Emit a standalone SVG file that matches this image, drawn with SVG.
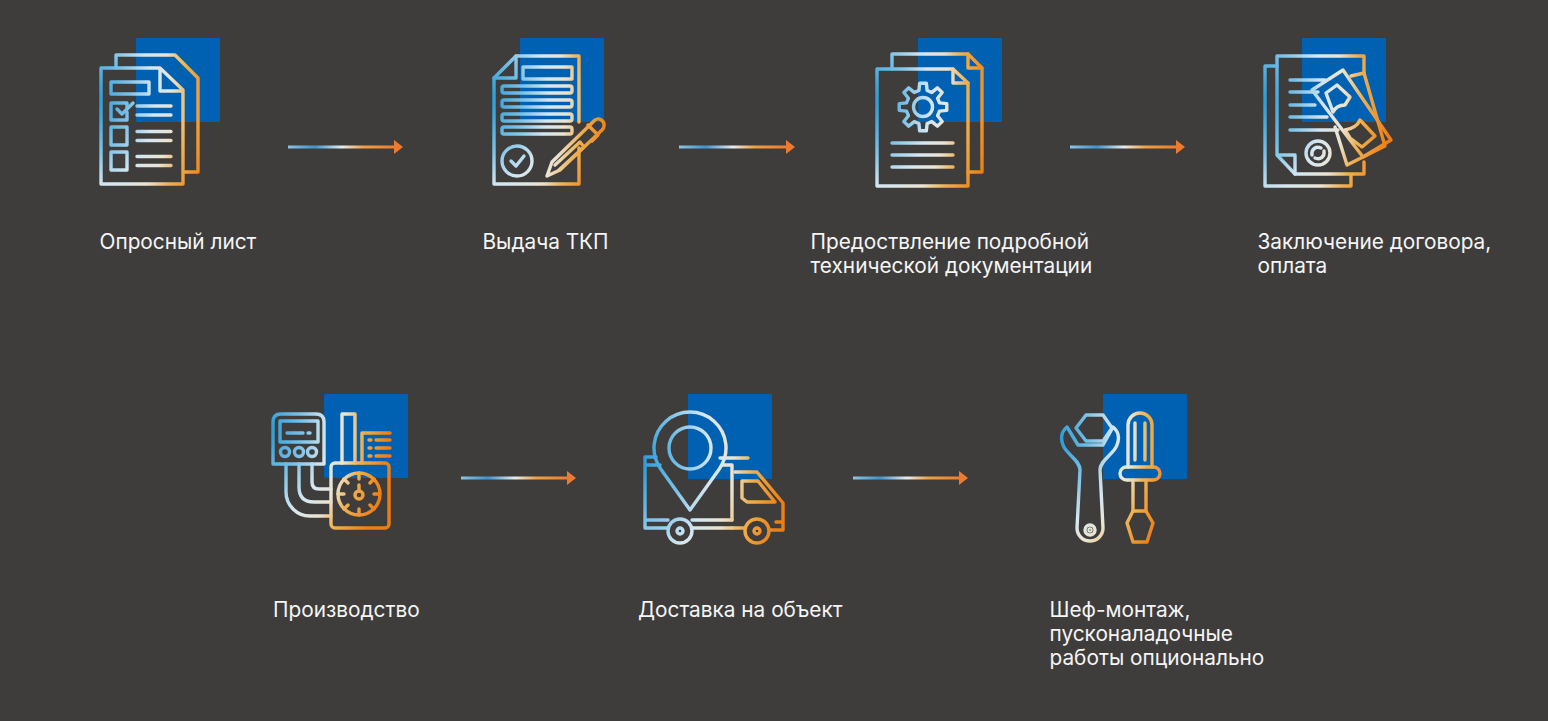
<svg xmlns="http://www.w3.org/2000/svg" width="1548" height="721" viewBox="0 0 1548 721">
<style>
.bg{fill:#3e3d3c}
.sq{fill:#0061b2}
.i{fill:none;stroke-width:3.400;stroke-linejoin:round;stroke-linecap:round}
text{font-family:"Inter","Noto Sans","Liberation Sans",sans-serif;font-size:20.800px;fill:#f5f5f5}
.c{fill:none;stroke:url(#ag);stroke-width:3}
</style>
<defs>
<radialGradient id="base"><stop offset="0" stop-color="#1c97d6"/><stop offset=".3" stop-color="#7cc2e8"/><stop offset=".5" stop-color="#d5e7f1"/><stop offset=".65" stop-color="#ebe4d2"/><stop offset=".78" stop-color="#efb050"/><stop offset="1" stop-color="#ee7d12"/></radialGradient>
<radialGradient id="g1" href="#base" gradientUnits="userSpaceOnUse" cx="0" cy="0" r="125" gradientTransform="translate(92 100) scale(1 1.4)"/>
<radialGradient id="g2" href="#base" gradientUnits="userSpaceOnUse" cx="0" cy="0" r="125" gradientTransform="translate(486 100) scale(1 1.4)"/>
<radialGradient id="g3" href="#base" gradientUnits="userSpaceOnUse" cx="0" cy="0" r="125" gradientTransform="translate(869 100) scale(1 1.4)"/>
<radialGradient id="g4" href="#base" gradientUnits="userSpaceOnUse" cx="0" cy="0" r="135" gradientTransform="translate(1257 100) scale(1 1.4)"/>
<radialGradient id="g5" href="#base" gradientUnits="userSpaceOnUse" cx="0" cy="0" r="125" gradientTransform="translate(265 430) scale(1 1.4)"/>
<radialGradient id="g6" href="#base" gradientUnits="userSpaceOnUse" cx="0" cy="0" r="148" gradientTransform="translate(637 460) scale(1 1.4)"/>
<radialGradient id="g7" href="#base" gradientUnits="userSpaceOnUse" cx="0" cy="0" r="120" gradientTransform="translate(1055 440) scale(1 1.4)"/>
<linearGradient id="ag" gradientUnits="userSpaceOnUse" x1="0" y1="0" x2="108" y2="0"><stop offset="0" stop-color="#8cc4e4"/><stop offset=".25" stop-color="#3f93cc"/><stop offset=".5" stop-color="#e6ebee"/><stop offset=".7" stop-color="#efa040"/><stop offset="1" stop-color="#ee7a30"/></linearGradient>
<marker id="head" markerUnits="userSpaceOnUse" markerWidth="10" markerHeight="14" refX="0" refY="7" orient="auto"><path d="M0,0L9,7L0,14Z" fill="#ee7a30"/></marker>
</defs>
<rect class="bg" width="1548" height="721"/>
<g id="connectors">
<line class="c" transform="translate(288 147)" x2="106" marker-end="url(#head)"/>
<line class="c" transform="translate(679 147)" x2="107" marker-end="url(#head)"/>
<line class="c" transform="translate(1070 147)" x2="106" marker-end="url(#head)"/>
<line class="c" transform="translate(461 478)" x2="106" marker-end="url(#head)"/>
<line class="c" transform="translate(853 478)" x2="106" marker-end="url(#head)"/>
</g>
<g id="node1">
<rect class="sq" x="136" y="38" width="84" height="84"/>
<g class="i" stroke="url(#g1)">
<path d="M116,68V55H175L198,78V172H185"/>
<path d="M160,68H101V184H183V90L160,68V91H183"/>
<rect x="111" y="82" width="38" height="12"/>
<path d="M127,108V103H111V120H127V112"/>
<path d="M117,109L122,114L133,103"/>
<path d="M137,106H171M137,115H171M137,131.500H171M137,140.500H171M137,156.500H171M137,165.500H171"/>
<rect x="111" y="127" width="16" height="18"/>
<rect x="111" y="152" width="16" height="18"/>
</g>
<text x="99.500" y="249">Опросный лист</text>
</g>
<g id="node2">
<rect class="sq" x="520" y="38" width="84" height="84"/>
<g class="i" stroke="url(#g2)">
<path d="M579,122V56H516L494,78V184H579V148"/>
<path d="M516,56V78H494"/>
<rect x="523" y="67" width="49" height="12"/>
<rect x="502" y="86" width="70" height="7" rx="2"/>
<rect x="502" y="100" width="70" height="7" rx="2"/>
<rect x="502" y="114" width="70" height="7" rx="2"/>
<rect x="502" y="127" width="70" height="7" rx="2"/>
<circle cx="517" cy="161" r="15"/>
<path d="M511,161L516,166L524,156"/>
<path d="M547,176L552,162L595,120C599,117 605,121 604,126C604,128 603,129 602,130L560,170Z"/>
<path d="M555,165L580,142L584,147L559,170"/>
<path d="M588,125L598,135L592,141"/>
</g>
<text x="482.500" y="249">Выдача ТКП</text>
</g>
<g id="node3">
<rect class="sq" x="918" y="38" width="84" height="84"/>
<g class="i" stroke="url(#g3)">
<path d="M892,69V54H968L982,68V172H968"/>
<path d="M968,54V68H982"/>
<path d="M953,69H877V186H968V83Z"/>
<path d="M953,69V83H968"/>
<path d="M939.500,102.890L946.770,103.660L946.770,110.340L939.500,111.110L937.570,115.760L942.170,121.450L937.450,126.170L931.760,121.570L927.110,123.500L926.340,130.770L919.660,130.770L918.890,123.500L914.240,121.570L908.550,126.170L903.830,121.450L908.430,115.760L906.500,111.110L899.230,110.340L899.230,103.660L906.500,102.890L908.430,98.240L903.830,92.550L908.550,87.830L914.240,92.430L918.890,90.500L919.660,83.230L926.340,83.230L927.110,90.500L931.760,92.430L937.450,87.830L942.170,92.550L937.570,98.240Z"/>
<circle cx="923" cy="107" r="9.500"/>
<path d="M892,143H953M892,155H953M892,167H953"/>
</g>
<text x="810.500" y="249">Предоствление подробной</text>
<text x="810.500" y="273">технической документации</text>
</g>
<g id="node4">
<rect class="sq" x="1302" y="38" width="84" height="84"/>
<g class="i" stroke="url(#g4)">
<path d="M1364,73V56H1277V155L1295,174H1364V162"/>
<path d="M1278,155H1295V174"/>
<path d="M1277,66H1265V186H1351V175"/>
<path d="M1290,80H1325M1290,92H1318M1290,105H1315M1290,117H1327M1290,130H1338"/>
<circle cx="1318" cy="153" r="12"/>
<path d="M1312,155C1311,149 1316,146 1321,148M1324,151C1325,157 1320,160 1315,158"/>
<path d="M1312,90L1343,70L1391,140L1363,157Z"/>
<path d="M1351,76L1364,73L1385,146L1347,165L1335,127"/>
<path d="M1326,93L1337,85L1350,97L1345,105C1339,105 1335,108 1333,112Z"/>
<path d="M1345,130C1352,129 1358,125 1360,120L1375,136L1362,147L1350,138Z"/>
</g>
<text x="1257.500" y="249">Заключение договора,</text>
<text x="1257.500" y="273">оплата</text>
</g>
<g id="node5">
<rect class="sq" x="324" y="394" width="84" height="84"/>
<g class="i" stroke="url(#g5)">
<path d="M273,464V422Q273,414 281,414H316Q324,414 324,422V464Z"/>
<rect x="280" y="421" width="38" height="21"/>
<path d="M287,433H303M308,433H310"/>
<circle cx="285" cy="452" r="4.500"/>
<circle cx="299" cy="452" r="4.500"/>
<circle cx="312" cy="452" r="4.500"/>
<path d="M286,464V492A24,24 0 0 0 310,516H331"/>
<path d="M299,464V487Q299,502 314,502H331"/>
<path d="M312,464V482Q312,489 319,489H331"/>
<rect x="331" y="463" width="58" height="65" rx="4"/>
<circle cx="359" cy="494" r="21"/>
<circle cx="359" cy="495" r="4"/>
<path d="M359,491V485M359,473V479M359,515V509M338,494H344M380,494H374M344,479L348,483M374,479L370,483M344,509L348,505M374,509L370,505"/>
<path d="M342,463V414H355V463"/>
<path d="M362,463V433H390"/>
<path d="M369,440H371M369,448H371M369,456H371M376,440H390M376,448H390M376,456H390"/>
</g>
<text x="273" y="617">Производство</text>
</g>
<g id="node6">
<rect class="sq" x="688" y="394" width="84" height="85"/>
<g class="i" stroke="url(#g6)">
<path d="M690,510L660.700,468.900A36,36 0 1 1 719.300,468.900Z"/>
<circle cx="690" cy="448" r="21"/>
<path d="M656,457H645V520M645,465H660M645,520V528H668M692,528H732M692,520H732M645,520H668"/>
<path d="M720,458H748M722,465H732V520M732,528H745"/>
<path d="M735,472H757L783,503V530H770M783,522H776"/>
<path d="M742,481H758L775,502H747L742,498Z"/>
<circle cx="680" cy="531" r="12"/>
<circle cx="680" cy="531" r="3"/>
<circle cx="757" cy="531" r="12"/>
<circle cx="757" cy="531" r="3"/>
</g>
<text x="638" y="617">Доставка на объект</text>
</g>
<g id="node7">
<rect class="sq" x="1103" y="394" width="84" height="85"/>
<g class="i" stroke="url(#g7)">
<path d="M1076,428L1086,415H1103L1112,428L1103,441H1086Z"/>
<path d="M1067,427C1062,431 1060,437 1063,445C1066,454 1080,460 1080,470L1077,528A13,13 0 0 0 1103,528L1100,470C1100,460 1114,454 1117,445C1120,437 1118,431 1113,427L1103,445H1078Z"/>
<circle cx="1090" cy="530" r="5"/>
<circle cx="1090" cy="530" r="1"/>
<path d="M1128,467V425A12,12 0 0 1 1152,425V467"/>
<path d="M1135,423V460M1145,423V460"/>
<rect x="1120" y="467" width="40" height="13" rx="6.500"/>
<path d="M1133,480V511H1146V480"/>
<path d="M1133,511L1127,523L1133,542H1147L1153,523L1146,511"/>
</g>
<text x="1049.500" y="617">Шеф-монтаж,</text>
<text x="1049.500" y="641">пусконаладочные</text>
<text x="1049.500" y="665">работы опционально</text>
</g>
</svg>
